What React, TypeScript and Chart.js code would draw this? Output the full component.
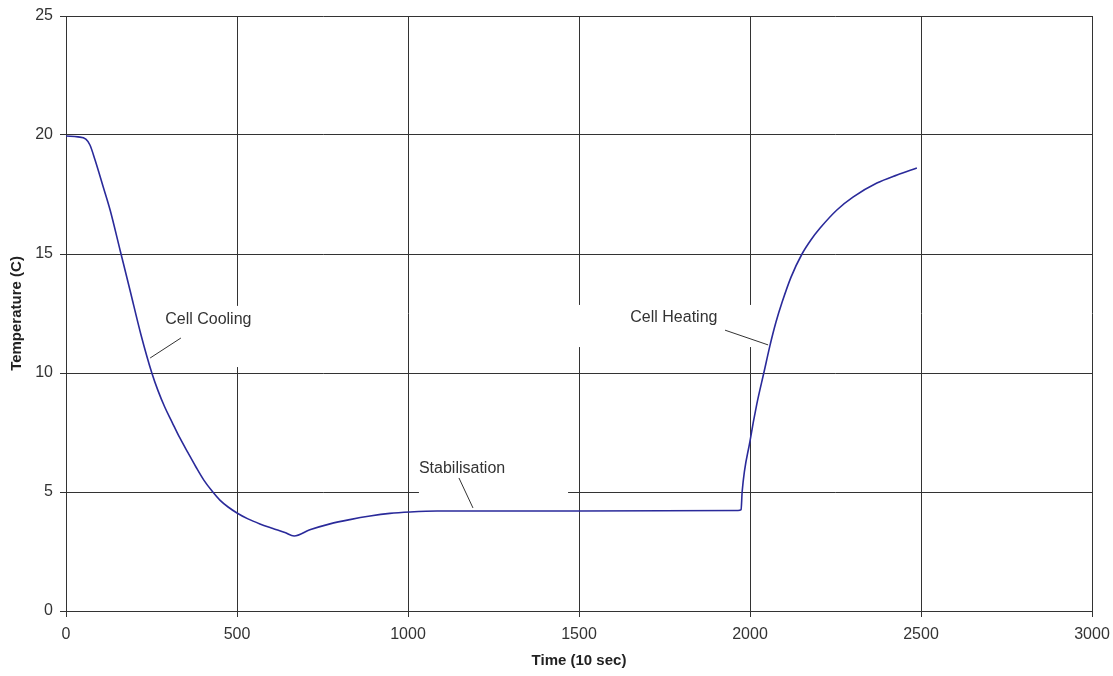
import React, { useEffect, useRef } from "react";
import { Chart, registerables } from "chart.js";

Chart.register(...registerables);

// Time (10 sec) and Temperature (C)
const times = [
  0, 35, 58, 70, 85, 108, 129, 158, 187, 219, 251, 269, 289, 310, 333, 357, 380, 403, 427, 450, 474, 500, 532, 567, 605, 640, 667,
  713, 772, 830, 889, 947, 1006, 1085, 1500, 1965, 1974,
  1977, 2000, 2020, 2041, 2058, 2076, 2094, 2120, 2152, 2178, 2205, 2254, 2301, 2371, 2430, 2488,
];
const temps = [
  19.96, 19.92, 19.83, 19.58, 18.95, 17.86, 16.85, 15.17, 13.49, 11.62, 10.0, 9.26, 8.56, 7.94, 7.27, 6.64, 6.05, 5.5, 5.04, 4.66, 4.37, 4.12, 3.87, 3.66, 3.47, 3.3, 3.15,
  3.41, 3.66, 3.84, 3.99, 4.1, 4.16, 4.2, 4.2, 4.22, 4.26,
  5.0, 7.14, 8.7, 10.04, 11.13, 12.14, 12.98, 14.03, 15.0, 15.59, 16.09, 16.85, 17.39, 17.98, 18.32, 18.61,
];

const xTicks = [0, 500, 1000, 1500, 2000, 2500, 3000];
const yTicks = [0, 5, 10, 15, 20, 25];

const labelTexts = ["Cell Cooling", "Stabilisation", "Cell Heating"];
const labelX = [290, 1032, 1650];
const labelY = [12.23, 6.0, 12.31];
// leader lines: from (x1,y1) to (x2,y2)
const leaderX1 = [336, 1149, 1927];
const leaderY1 = [11.47, 5.59, 11.8];
const leaderX2 = [246, 1190, 2053];
const leaderY2 = [10.63, 4.33, 11.18];
// white boxes behind labels (cover grid lines)
const boxX1 = [260, 1032, 1459];
const boxX2 = [684, 1468, 2015];
const boxY1 = [12.82, 7.18, 12.86];
const boxY2 = [10.25, 4.79, 11.09];

const FONT = "'Liberation Sans', Arial, sans-serif";

const annotationPlugin = {
  id: "annots",
  beforeDatasetsDraw(chart: any) {
    const { ctx, scales } = chart;
    const xs = scales.x, ys = scales.y;
    ctx.save();
    ctx.fillStyle = "#ffffff";
    for (let i = 0; i < boxX1.length; i++) {
      const x1 = xs.getPixelForValue(boxX1[i]);
      const x2 = xs.getPixelForValue(boxX2[i]);
      const y1 = ys.getPixelForValue(boxY1[i]);
      const y2 = ys.getPixelForValue(boxY2[i]);
      ctx.fillRect(x1, y1, x2 - x1, y2 - y1);
    }
    ctx.restore();
  },
  afterDatasetsDraw(chart: any) {
    const { ctx, scales } = chart;
    const xs = scales.x, ys = scales.y;
    ctx.save();
    ctx.fillStyle = "#333333";
    ctx.font = "16px " + FONT;
    ctx.textAlign = "left";
    ctx.textBaseline = "middle";
    for (let i = 0; i < labelTexts.length; i++) {
      ctx.fillText(labelTexts[i], xs.getPixelForValue(labelX[i]), ys.getPixelForValue(labelY[i]));
    }
    ctx.strokeStyle = "#333333";
    ctx.lineWidth = 1;
    for (let i = 0; i < leaderX1.length; i++) {
      ctx.beginPath();
      ctx.moveTo(xs.getPixelForValue(leaderX1[i]), ys.getPixelForValue(leaderY1[i]));
      ctx.lineTo(xs.getPixelForValue(leaderX2[i]), ys.getPixelForValue(leaderY2[i]));
      ctx.stroke();
    }
    ctx.restore();
  },
};

export default function App() {
  const ref = useRef<HTMLCanvasElement | null>(null);
  useEffect(() => {
    if (!ref.current) return;
    const data = times.map((t, i) => ({ x: t, y: temps[i] }));
    const chart = new Chart(ref.current, {
      type: "line",
      data: {
        datasets: [
          {
            data,
            borderColor: "#2a2a9a",
            borderWidth: 1.6,
            pointRadius: 0,
            cubicInterpolationMode: "monotone",
            fill: false,
          },
        ],
      },
      options: {
        responsive: false,
        animation: false,
        layout: { padding: { left: 0, right: 21, top: 16, bottom: 0 } },
        plugins: { legend: { display: false }, tooltip: { enabled: false } },
        scales: {
          x: {
            type: "linear",
            min: 0,
            max: 3000,
            afterBuildTicks: (s: any) => { s.ticks = xTicks.map((v) => ({ value: v })); },
            afterFit: (s: any) => { s.height = 65; s.paddingLeft = 0; s.paddingRight = 0; },
            grid: { color: "#333333", lineWidth: 1, tickLength: 6, drawTicks: true },
            border: { color: "#333333", width: 1 },
            ticks: {
              color: "#333333",
              padding: 8,
              maxRotation: 0,
              font: { family: FONT, size: 16 },
              callback: (v: any) => String(v),
            },
            title: {
              display: true,
              text: "Time (10 sec)",
              color: "#222222",
              padding: { top: 0, bottom: 6 },
              font: { family: FONT, size: 15, weight: "bold" },
            },
          },
          y: {
            type: "linear",
            min: 0,
            max: 25,
            afterBuildTicks: (s: any) => { s.ticks = yTicks.map((v) => ({ value: v })); },
            afterFit: (s: any) => { s.width = 66; s.paddingTop = 0; s.paddingBottom = 0; },
            grid: { color: "#333333", lineWidth: 1, tickLength: 6, drawTicks: true },
            border: { color: "#333333", width: 1 },
            ticks: {
              color: "#333333",
              padding: 7,
              font: { family: FONT, size: 16 },
              callback: (v: any) => String(v),
            },
            title: {
              display: true,
              text: "Temperature (C)",
              color: "#222222",
              padding: { top: 8, bottom: 0 },
              font: { family: FONT, size: 15, weight: "bold" },
            },
          },
        },
      },
      plugins: [annotationPlugin],
    } as any);
    return () => chart.destroy();
  }, []);
  return (
    <div style={{ position: "absolute", left: 0, top: 0, width: 1113, height: 676, background: "#fff" }}>
      <canvas ref={ref} width={1113} height={676} />
    </div>
  );
}
